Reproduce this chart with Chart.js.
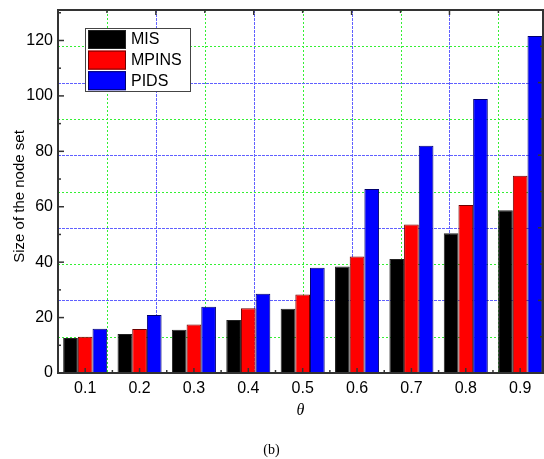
<!DOCTYPE html>
<html>
<head>
<meta charset="utf-8">
<script src="https://cdn.jsdelivr.net/npm/chart.js@4"></script>
<style>
  html, body { margin: 0; padding: 0; background: #fff; }
</style>
</head>
<body>
<canvas id="myChart" width="544" height="459"></canvas>
<script>
// Node set sizes for each theta
const thetas = [0.1, 0.2, 0.3, 0.4, 0.5, 0.6, 0.7, 0.8, 0.9];
const misValues = [12.6, 14.1, 15.6, 19.1, 23.2, 38.4, 41.1, 50.4, 58.7];
const mpinsValues = [13.1, 15.9, 17.5, 23.4, 28.3, 42.0, 53.6, 60.6, 71.2];
const pidsValues = [16.0, 20.9, 23.9, 28.6, 38.0, 66.4, 82.0, 98.9, 121.6];
const yTicks = [0, 20, 40, 60, 80, 100, 120];
const yTitle = "Size of the node set";

Chart.defaults.font.family = "'Liberation Sans', Arial, sans-serif";
Chart.defaults.font.size = 16;
Chart.defaults.color = "#000";

const ctx = document.getElementById("myChart");

// grid spacing (plot area split in 10 both ways)
const gridStepX = 0.09;
const gridStepY = 13.1;

function line(c, x1, y1, x2, y2) {
  c.beginPath();
  c.moveTo(x1, y1);
  c.lineTo(x2, y2);
  c.stroke();
}

// grid lines, frame and inward ticks on all four sides
const frameAndGrid = {
  id: "frameAndGrid",
  beforeDatasetsDraw(chart) {
    const { ctx, chartArea: a, scales: { x, y } } = chart;
    ctx.save();
    ctx.lineWidth = 1;
    for (let i = 1; i < 10; i++) {
      const green = i % 2 === 1;
      ctx.strokeStyle = green ? "#33f033" : "#6060ff";
      ctx.setLineDash(green ? [2, 2] : [3, 1]);
      const py = Math.round(y.getPixelForValue(i * gridStepY)) + 0.5;
      line(ctx, a.left, py, a.right, py);
      const px = Math.round(x.getPixelForValue(x.min + i * gridStepX)) + 0.5;
      line(ctx, px, a.top, px, a.bottom);
    }
    ctx.restore();
  },
  afterDatasetsDraw(chart) {
    const { ctx, chartArea: a, scales: { x, y } } = chart;
    ctx.save();
    ctx.strokeStyle = "#333";
    ctx.lineWidth = 2;
    ctx.strokeRect(a.left, a.top, a.right - a.left, a.bottom - a.top);

    ctx.lineWidth = 1.5;
    // left: labelled ticks + minor ticks between them
    yTicks.forEach((v) => {
      const py = y.getPixelForValue(v);
      line(ctx, a.left, py, a.left + 6, py);
      const pm = y.getPixelForValue(v + 10);
      line(ctx, a.left, pm, a.left + 3, pm);
    });
    // bottom: at each theta and halfway between
    thetas.forEach((v) => {
      const px = x.getPixelForValue(v);
      line(ctx, px, a.bottom, px, a.bottom - 5);
      const pm = x.getPixelForValue(v + 0.05);
      if (pm < a.right - 2) line(ctx, pm, a.bottom, pm, a.bottom - 3);
    });
    // top and right follow the grid
    for (let i = 1; i < 10; i++) {
      const len = i % 2 === 0 ? 5 : 3;
      const px = x.getPixelForValue(x.min + i * gridStepX);
      line(ctx, px, a.top, px, a.top + len);
      const py = y.getPixelForValue(i * gridStepY);
      line(ctx, a.right, py, a.right - len, py);
    }
    ctx.restore();
  },
  afterDraw(chart) {
    const { ctx, chartArea: a } = chart;
    ctx.save();
    // y axis title, sits a little below the plot middle
    ctx.translate(20, (a.top + a.bottom) / 2 + 5);
    ctx.rotate(-Math.PI / 2);
    ctx.font = "15px 'Liberation Sans', Arial, sans-serif";
    ctx.fillStyle = "#000";
    ctx.textAlign = "center";
    ctx.textBaseline = "middle";
    ctx.fillText(yTitle, 0, 0);
    ctx.restore();

    // legend box in the upper left of the plot
    const bx = a.left + 27, by = a.top + 18, bw = 105, bh = 63;
    ctx.save();
    ctx.fillStyle = "#fff";
    ctx.fillRect(bx, by, bw, bh);
    ctx.strokeStyle = "#444";
    ctx.lineWidth = 1;
    ctx.strokeRect(bx + 0.5, by + 0.5, bw, bh);
    ctx.font = "16px 'Liberation Sans', Arial, sans-serif";
    ctx.textBaseline = "middle";
    chart.data.datasets.forEach((ds, i) => {
      const sy = by + 2 + i * 20.6;
      ctx.fillStyle = ds.backgroundColor;
      ctx.fillRect(bx + 3, sy, 38, 19);
      ctx.strokeStyle = ds.borderColor;
      ctx.strokeRect(bx + 3.5, sy + 0.5, 37, 18);
      ctx.fillStyle = "#000";
      ctx.fillText(ds.label, bx + 46, sy + 10);
    });
    ctx.restore();
  },
};

const data = {
  labels: thetas,
  datasets: [
    { label: "MIS", data: misValues, backgroundColor: "#000000", borderColor: "#222222" },
    { label: "MPINS", data: mpinsValues, backgroundColor: "#ff0000", borderColor: "#6e0000" },
    { label: "PIDS", data: pidsValues, backgroundColor: "#0000ff", borderColor: "#00006e" },
  ],
};

const config = {
  type: "bar",
  data,
  options: {
    responsive: false,
    animation: false,
    layout: { padding: { top: 10, right: 1, left: 0, bottom: 0 } },
    datasets: {
      bar: { categoryPercentage: 0.81, barPercentage: 1, borderWidth: 1 },
    },
    plugins: {
      legend: { display: false },
      tooltip: { enabled: false },
      title: {
        display: true,
        text: "(b)",
        position: "bottom",
        color: "#000",
        font: { family: "'Liberation Serif', 'Times New Roman', serif", size: 14, weight: "normal" },
        padding: { top: 10, bottom: 0 },
      },
    },
    scales: {
      x: {
        type: "linear",
        offset: false,
        min: 0.05,
        max: 0.942,
        grid: { display: false, drawTicks: false, offset: false },
        border: { display: false },
        afterBuildTicks: (s) => {
          s.ticks = thetas.map((v) => ({ value: v }));
        },
        afterFit: (s) => {
          s.height = 59.2;
          s.paddingLeft = 0;
          s.paddingRight = 0;
        },
        ticks: {
          callback: (v) => Number(v).toFixed(1),
          padding: 6,
          maxRotation: 0,
          autoSkip: false,
        },
        title: {
          display: true,
          text: "θ",
          color: "#000",
          font: { family: "'Liberation Serif', 'Times New Roman', serif", size: 16, style: "italic" },
          padding: { top: 0, bottom: 12 },
        },
      },
      y: {
        min: 0,
        max: 131,
        grid: { display: false, drawTicks: false },
        border: { display: false },
        afterBuildTicks: (s) => {
          s.ticks = yTicks.map((v) => ({ value: v }));
        },
        afterFit: (s) => {
          s.width = 58;
          s.paddingTop = 0;
          s.paddingBottom = 0;
        },
        ticks: { padding: 5 },
      },
    },
  },
  plugins: [frameAndGrid],
};

new Chart(ctx, config);
</script>
</body>
</html>
